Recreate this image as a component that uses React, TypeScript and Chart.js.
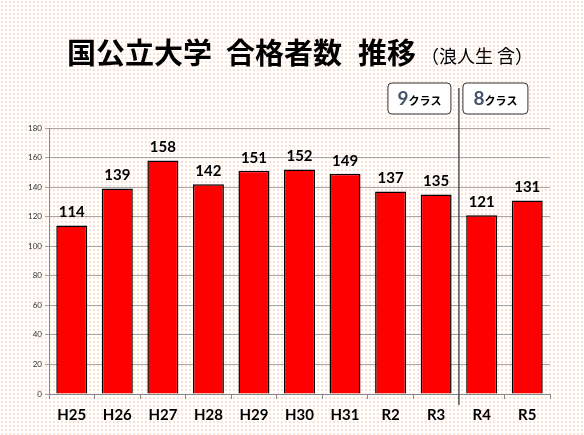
import React, { useEffect, useRef } from "react";
import { Chart, registerables } from "chart.js";

Chart.register(...registerables);

const categories = ["H25", "H26", "H27", "H28", "H29", "H30", "H31", "R2", "R3", "R4", "R5"];
const passers = [114, 139, 158, 142, 151, 152, 149, 137, 135, 121, 131];
const yTicks = [0, 20, 40, 60, 80, 100, 120, 140, 160, 180];
const titleParts = ["国公立大学", "合格者数", "推移"];
const titleSub = "（浪人生 含）";
const groupLabels = [
  { num: "9", text: "クラス" },
  { num: "8", text: "クラス" },
];
const splitAfterIndex = 8; // line between R3 and R4

const NUM_FONT = "Lato, 'Open Sans', 'Liberation Sans', sans-serif";
const JP_FONT = "'Noto Sans CJK JP', 'Noto Sans', sans-serif";

function roundRect(ctx: CanvasRenderingContext2D, x: number, y: number, w: number, h: number, r: number) {
  ctx.beginPath();
  ctx.moveTo(x + r, y);
  ctx.lineTo(x + w - r, y);
  ctx.quadraticCurveTo(x + w, y, x + w, y + r);
  ctx.lineTo(x + w, y + h - r);
  ctx.quadraticCurveTo(x + w, y + h, x + w - r, y + h);
  ctx.lineTo(x + r, y + h);
  ctx.quadraticCurveTo(x, y + h, x, y + h - r);
  ctx.lineTo(x, y + r);
  ctx.quadraticCurveTo(x, y, x + r, y);
  ctx.closePath();
}

const overlayPlugin = {
  id: "overlay",
  afterDatasetsDraw(chart: any) {
    const ctx: CanvasRenderingContext2D = chart.ctx;
    const xs = chart.scales.x;
    const ys = chart.scales.y;
    const meta = chart.getDatasetMeta(0);
    ctx.save();
    // value labels
    ctx.fillStyle = "#000";
    ctx.font = `bold 15px ${NUM_FONT}`;
    ctx.textAlign = "center";
    ctx.textBaseline = "middle";
    meta.data.forEach((bar: any, i: number) => {
      ctx.fillText(String(passers[i]), bar.x, bar.y - 13);
    });

    // separator line
    const xA = xs.getPixelForValue(splitAfterIndex);
    const xB = xs.getPixelForValue(splitAfterIndex + 1);
    const lx = (xA + xB) / 2;
    ctx.strokeStyle = "#555";
    ctx.lineWidth = 1.5;
    ctx.beginPath();
    ctx.moveTo(lx, 88);
    ctx.lineTo(lx, ys.bottom + 11);
    ctx.stroke();

    // group boxes
    const boxes = [
      { x: lx - 71, w: 63 },
      { x: lx + 4, w: 65 },
    ];
    boxes.forEach((b, i) => {
      const top = 83;
      const h = 31;
      roundRect(ctx, b.x, top, b.w, h, 4);
      ctx.fillStyle = "#fff";
      ctx.fill();
      ctx.strokeStyle = "#333";
      ctx.lineWidth = 1;
      ctx.stroke();
      const g = groupLabels[i];
      ctx.font = `bold 19px ${NUM_FONT}`;
      const nw = ctx.measureText(g.num).width;
      ctx.font = `bold 11px ${JP_FONT}`;
      const tw = ctx.measureText(g.text).width;
      const start = b.x + (b.w - nw - tw) / 2;
      ctx.textAlign = "left";
      ctx.textBaseline = "alphabetic";
      ctx.fillStyle = "#44546a";
      ctx.font = `bold 19px ${NUM_FONT}`;
      ctx.fillText(g.num, start, top + 22);
      ctx.fillStyle = "#000";
      ctx.font = `bold 11px ${JP_FONT}`;
      ctx.fillText(g.text, start + nw, top + 22);
    });

    // title
    ctx.textAlign = "left";
    ctx.textBaseline = "middle";
    ctx.fillStyle = "#000";
    ctx.font = `bold 29px ${JP_FONT}`;
    const starts = [67, 226, 358];
    titleParts.forEach((t, i) => ctx.fillText(t, starts[i], 53));
    ctx.font = `18px ${JP_FONT}`;
    ctx.fillText(titleSub, 421, 56);
    ctx.restore();
  },
};

export default function App() {
  const ref = useRef<HTMLCanvasElement | null>(null);
  useEffect(() => {
    if (!ref.current) return;
    const chart = new Chart(ref.current, {
      type: "bar",
      data: {
        labels: categories,
        datasets: [
          {
            data: passers,
            backgroundColor: "#ff0000",
            borderColor: "#000",
            borderWidth: 1.5,
            barPercentage: 0.68,
            categoryPercentage: 1,
          },
        ],
      },
      options: {
        responsive: false,
        animation: false,
        layout: { padding: { left: 0, right: 34, top: 128, bottom: 0 } },
        plugins: { legend: { display: false }, tooltip: { enabled: false }, title: { display: false } },
        scales: {
          x: {
            offset: true,
            grid: {
              offset: true,
              drawOnChartArea: false,
              drawTicks: true,
              tickLength: 5,
              color: "#888",
            },
            border: { color: "#888", width: 1 },
            ticks: {
              color: "#000",
              padding: 7,
              font: { family: NUM_FONT, size: 15, weight: "bold" },
            },
            afterFit: (s: any) => {
              s.height = 41;
            },
          },
          y: {
            min: 0,
            max: 180,
            afterBuildTicks: (s: any) => {
              s.ticks = yTicks.map((v) => ({ value: v }));
            },
            grid: { color: "#a6a6a6", lineWidth: 1, tickLength: 4 },
            border: { color: "#888", width: 1 },
            ticks: {
              color: "#333",
              padding: 3,
              font: { family: NUM_FONT, size: 8 },
            },
            afterFit: (s: any) => {
              s.width = 49;
            },
          },
        },
      },
      plugins: [overlayPlugin],
    } as any);
    return () => chart.destroy();
  }, []);

  const bg: React.CSSProperties = {
    position: "fixed",
    left: 0,
    top: 0,
    width: 584,
    height: 435,
    backgroundColor: "#ffffff",
    backgroundImage: "radial-gradient(circle, #fde0d0 1px, transparent 1.3px)",
    backgroundSize: "4px 4px",
    backgroundPosition: "0 0",
  };

  return (
    <div style={bg}>
      <canvas ref={ref} width={584} height={435} style={{ width: 584, height: 435, display: "block" }} />
    </div>
  );
}
